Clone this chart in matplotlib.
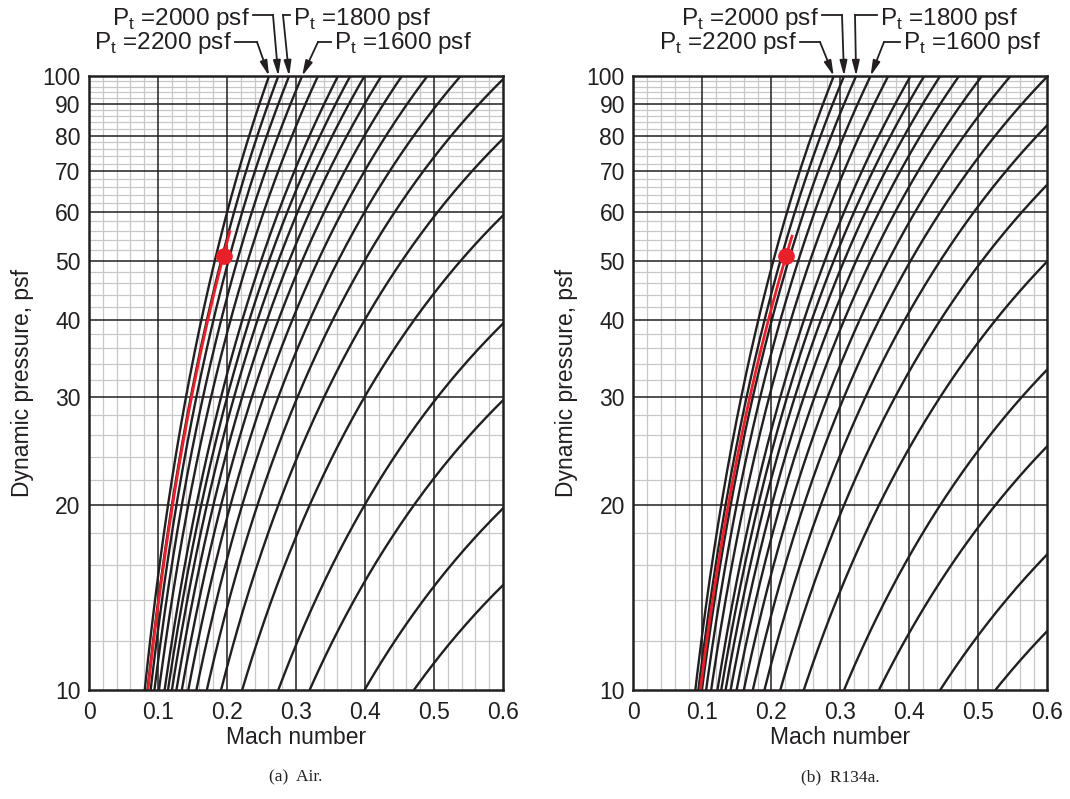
import numpy as np
import matplotlib.pyplot as plt
from matplotlib.ticker import FixedLocator, NullFormatter

plt.rcParams['font.family'] = ['Liberation Sans', 'DejaVu Sans']
plt.rcParams['mathtext.fontset'] = 'custom'
plt.rcParams['mathtext.rm'] = 'Liberation Sans'

# total pressures of the curve family, psf
pt_curves = [2200, 2000, 1800, 1600, 1400, 1200, 1100, 1000, 900, 800,
             700, 600, 500, 400, 300, 200, 150, 100, 75]
gamma = {'air': 1.4, 'r134a': 1.13}
# red test curve: total pressure, top end of segment, marked point
red_pt = {'air': 1970, 'r134a': 1890}
red_qmax = {'air': 56, 'r134a': 55}
red_point = {'air': (0.195, 51), 'r134a': (0.222, 51)}
captions = {'air': '(a)  Air.', 'r134a': '(b)  R134a.'}
labelled = [2200, 2000, 1800, 1600]

x_major = [0, 0.1, 0.2, 0.3, 0.4, 0.5, 0.6]
x_minor = [0.02, 0.04, 0.06, 0.08, 0.12, 0.14, 0.16, 0.18, 0.22, 0.24, 0.26, 0.28,
           0.32, 0.34, 0.36, 0.38, 0.42, 0.44, 0.46, 0.48, 0.52, 0.54, 0.56, 0.58]
y_major = [10, 20, 30, 40, 50, 60, 70, 80, 90, 100]
y_minor = [v for v in range(12, 100, 2) if v % 10]

INK = '#231f20'
W, H = 1070, 799


def dyn_pressure(mach, pt, g):
    return 0.5 * g * pt * mach**2 / (1 + 0.5 * (g - 1) * mach**2) ** (g / (g - 1))


def fig_xy(px, py):
    return px / W, 1 - py / H


fig = plt.figure(figsize=(W / 100, H / 100), dpi=100)

# text anchor (px) + alignment, leader start, bend (px)
label_layout = {
    'air': {
        2000: ((250, 19), 'right', (253, 15), (273, 15)),
        2200: ((232, 43), 'right', (235, 42), (257, 42)),
        1800: ((293, 19), 'left', (290, 15), (283, 15)),
        1600: ((334, 43), 'left', (331, 42), (318, 42)),
    },
    'r134a': {
        2000: ((819, 19), 'right', (822, 15), (842, 15)),
        2200: ((797, 43), 'right', (800, 42), (820, 42)),
        1800: ((880, 19), 'left', (877, 15), (855, 15)),
        1600: ((903, 43), 'left', (900, 42), (884, 42)),
    },
}

mach = np.linspace(0.001, 0.6, 600)
for gas, left in [('air', 89), ('r134a', 633.3)]:
    g = gamma[gas]
    ax = fig.add_axes([left / W, (H - 690) / H, 414 / W, 614 / H])
    ax.set_yscale('log')
    ax.set_xlim(0, 0.6)
    ax.set_ylim(10, 100)

    ax.xaxis.set_major_locator(FixedLocator(x_major))
    ax.xaxis.set_minor_locator(FixedLocator(x_minor))
    ax.yaxis.set_major_locator(FixedLocator(y_major))
    ax.yaxis.set_minor_locator(FixedLocator(y_minor))
    ax.set_xticklabels(['0', '0.1', '0.2', '0.3', '0.4', '0.5', '0.6'])
    ax.set_yticklabels([str(v) for v in y_major])
    ax.yaxis.set_minor_formatter(NullFormatter())
    ax.tick_params(which='both', length=0, labelsize=16.5, colors=INK)
    ax.tick_params(axis='x', pad=8)
    ax.tick_params(axis='y', pad=6)
    ax.grid(which='minor', color='#c8c8c8', lw=0.9)
    ax.set_axisbelow(True)
    # major grid on top of the grey one
    for v in x_major[1:-1]:
        ax.axvline(v, color=INK, lw=1.1, zorder=1)
    for v in y_major[1:-1]:
        ax.axhline(v, color=INK, lw=1.1, zorder=1)
    for s in ax.spines.values():
        s.set_color(INK)
        s.set_linewidth(1.8)
        s.set_zorder(5)

    tips = {}
    for pt in pt_curves:
        q = dyn_pressure(mach, pt, g)
        ax.plot(mach, q, color=INK, lw=1.7, zorder=3)
        tips[pt] = np.interp(100, q, mach)

    q = dyn_pressure(mach, red_pt[gas], g)
    keep = q <= red_qmax[gas]
    ax.plot(mach[keep], q[keep], color='#e8202a', lw=2.0, zorder=4)
    ax.plot(*red_point[gas], 'o', color='#e8202a', ms=11, zorder=6)

    ax.set_xlabel('Mach number', fontsize=16.5, color=INK, labelpad=1)
    ax.set_ylabel('Dynamic pressure, psf', fontsize=16.5, color=INK, labelpad=6)

    for pt in labelled:
        tpos, align, start, bend = label_layout[gas][pt]
        fig.text(*fig_xy(*tpos), r'P$_\mathregular{t}$ =%d psf' % pt,
                 fontsize=17.5, color=INK, va='center', ha=align)
        fig.add_artist(plt.Line2D([fig_xy(*start)[0], fig_xy(*bend)[0]],
                                  [fig_xy(*start)[1], fig_xy(*bend)[1]],
                                  color=INK, lw=1.3))
        ax.annotate('', xy=(tips[pt], 100), xycoords='data',
                    xytext=fig_xy(*bend), textcoords='figure fraction',
                    arrowprops=dict(arrowstyle='-|>,head_length=0.9,head_width=0.22',
                                    color=INK, lw=1.3, shrinkA=0, shrinkB=0))

    fig.text((left + 207) / W, 1 - 777 / H, captions[gas], ha='center', va='center',
             fontsize=12.5, family=['Liberation Serif', 'DejaVu Serif'], color=INK)

fig.savefig('out.png', dpi=100)
